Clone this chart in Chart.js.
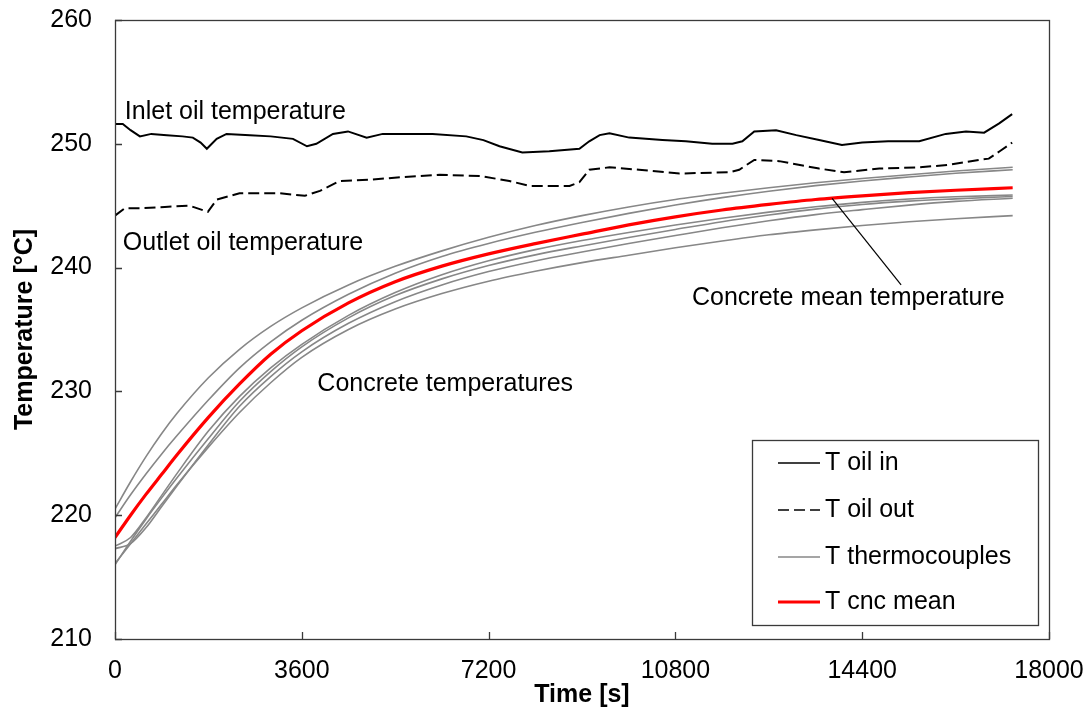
<!DOCTYPE html>
<html><head><meta charset="utf-8">
<script src="https://cdn.jsdelivr.net/npm/chart.js@4.4.1/dist/chart.umd.min.js"></script>
<style>html,body{margin:0;padding:0;background:#fff}canvas{display:block}</style>
</head><body>
<canvas id="c" width="1088" height="711"></canvas>
<script>
// ---------- data ----------
const xTicks = [0, 3600, 7200, 10800, 14400, 18000];
const yTicks = [210, 220, 230, 240, 250, 260];

const oilInTime = [0,150,300,480,700,1000,1300,1500,1650,1770,1960,2150,2600,3000,3430,3700,3880,4200,4490,4850,5160,5600,6120,6770,7100,7410,7850,8370,8950,9140,9340,9530,9910,10550,11000,11510,11900,12090,12320,12740,13130,13570,14010,14400,14900,15500,16010,16400,16750,17040,17290];
const oilIn = [251.6,251.6,251.1,250.6,250.8,250.7,250.6,250.5,250.1,249.6,250.4,250.8,250.7,250.6,250.4,249.8,250.0,250.8,251.0,250.5,250.8,250.8,250.8,250.6,250.3,249.8,249.3,249.4,249.6,250.2,250.7,250.85,250.5,250.3,250.2,250.0,250.0,250.2,251.0,251.1,250.7,250.3,249.9,250.1,250.2,250.2,250.8,251.0,250.9,251.65,252.4];

const oilOutTime = [0,190,480,960,1440,1790,1960,2400,3180,3660,3950,4330,4910,5490,6260,7030,7600,7990,8760,8950,9140,9530,10100,10880,11840,12030,12320,12800,13570,14050,14730,15500,16070,16650,16840,17050,17290];
const oilOut = [244.2,244.8,244.8,244.9,245.0,244.5,245.5,246.0,246.0,245.8,246.2,247.0,247.1,247.3,247.5,247.4,247.0,246.6,246.6,246.9,247.9,248.1,247.9,247.6,247.7,247.9,248.7,248.6,248.0,247.7,248.0,248.1,248.3,248.7,248.8,249.4,250.1];

const cncTime = [0,300,600,900,1200,1800,2400,3000,3600,4500,5400,6300,7200,8100,9000,9900,10800,11700,12600,13500,14400,15300,16200,17300];
const tc1 = [220.5,222.7,224.75,226.6,228.25,231.1,233.4,235.25,236.75,238.6,240.1,241.35,242.45,243.4,244.2,244.9,245.5,246.0,246.45,246.85,247.2,247.5,247.8,248.1];
const tc2 = [219.8,221.65,223.35,224.95,226.45,229.3,231.9,234.0,235.75,237.85,239.55,240.9,241.95,242.85,243.65,244.38,245.05,245.65,246.17,246.62,247.0,247.32,247.62,247.9];
const tc3 = [217.5,218.2,219.8,221.6,223.4,226.8,229.6,231.9,233.8,236.14,237.98,239.42,240.55,241.45,242.19,242.84,243.44,243.98,244.48,244.91,245.27,245.54,245.72,245.86];
const tc4 = [216.0,217.9,219.7,221.4,223.05,226.2,229.2,231.6,233.6,235.94,237.74,239.09,240.17,241.03,241.75,242.43,243.08,243.71,244.25,244.72,245.1,245.37,245.55,245.74];
const tc5 = [217.3,217.7,219.0,220.7,222.4,225.7,228.8,231.2,233.2,235.5,237.25,238.6,239.68,240.54,241.26,241.94,242.59,243.22,243.78,244.28,244.68,245.05,245.35,245.6];
const tc6 = [216.1,217.7,219.3,220.9,222.5,225.5,228.3,230.7,232.75,235.0,236.65,237.9,238.9,239.7,240.4,241.0,241.6,242.15,242.65,243.05,243.4,243.7,243.95,244.2];
const cncMean = [218.2,220.0,221.7,223.3,224.9,227.9,230.6,233.0,234.9,237.15,238.86,240.12,241.11,241.94,242.7,243.45,244.1,244.65,245.1,245.5,245.8,246.05,246.25,246.45];

const legendLabels = ['T oil in', 'T oil out', 'T thermocouples', 'T cnc mean'];

// ---------- helpers ----------
const pts = (xs, ys) => xs.map((x, i) => ({x: x, y: ys[i]}));
const FONT = "'Liberation Sans', Arial, sans-serif";
const GRAY = '#878787';

const tcSets = [tc1, tc2, tc3, tc4, tc5, tc6].map((arr, i) => ({
  label: 'tc' + (i + 1),
  data: pts(cncTime, arr),
  borderColor: GRAY, borderWidth: 1.6, pointRadius: 0,
  cubicInterpolationMode: 'monotone', fill: false
}));

const datasets = [
  ...tcSets,
  {label: legendLabels[3], data: pts(cncTime, cncMean), borderColor: '#ff0000', borderWidth: 3.2, pointRadius: 0, cubicInterpolationMode: 'monotone', fill: false},
  {label: legendLabels[1], data: pts(oilOutTime, oilOut), borderColor: '#000', borderWidth: 2, borderDash: [11, 5], pointRadius: 0, tension: 0, fill: false},
  {label: legendLabels[0], data: pts(oilInTime, oilIn), borderColor: '#000', borderWidth: 2, pointRadius: 0, tension: 0, fill: false}
];

const legendStyles = [
  {color: '#000', width: 1.6, dash: []},
  {color: '#000', width: 1.6, dash: [11, 5]},
  {color: GRAY, width: 1.6, dash: []},
  {color: '#ff0000', width: 3, dash: []}
];

// frame, inner tick marks, annotations and legend
const decor = {
  id: 'decor',
  afterDraw(chart) {
    const {ctx, chartArea: a, scales: {x, y}} = chart;
    ctx.save();
    ctx.strokeStyle = '#3a3a3a'; ctx.lineWidth = 1.3; ctx.setLineDash([]);
    ctx.strokeRect(a.left + 0.5, a.top + 0.5, a.right - a.left, a.bottom - a.top);
    ctx.beginPath();
    xTicks.forEach(v => { const px = Math.round(x.getPixelForValue(v)) + 0.5; ctx.moveTo(px, a.bottom); ctx.lineTo(px, a.bottom - 7); });
    yTicks.forEach(v => { const py = Math.round(y.getPixelForValue(v)) + 0.5; ctx.moveTo(a.left, py); ctx.lineTo(a.left + 7, py); });
    ctx.stroke();
    // annotations
    ctx.fillStyle = '#000'; ctx.font = '25px ' + FONT; ctx.textBaseline = 'middle'; ctx.textAlign = 'left';
    const note = (t, tv, vv) => ctx.fillText(t, x.getPixelForValue(tv), y.getPixelForValue(vv));
    note('Inlet oil temperature', 190, 252.6);
    note('Outlet oil temperature', 150, 242.0);
    note('Concrete temperatures', 3900, 230.6);
    note('Concrete mean temperature', 11120, 237.5);
    ctx.beginPath(); ctx.lineWidth = 1.2; ctx.strokeStyle = '#000';
    ctx.moveTo(x.getPixelForValue(13820), y.getPixelForValue(245.6));
    ctx.lineTo(x.getPixelForValue(15150), y.getPixelForValue(238.6));
    ctx.stroke();
    // legend
    const L = {l: 752, t: 440, w: 286, h: 185};
    ctx.fillStyle = '#fff'; ctx.fillRect(L.l, L.t, L.w, L.h);
    ctx.strokeStyle = '#3a3a3a'; ctx.lineWidth = 1.3;
    ctx.strokeRect(L.l + 0.5, L.t + 0.5, L.w, L.h);
    const rows = [463, 510, 557, 602];
    legendLabels.forEach((lab, i) => {
      const s = legendStyles[i];
      ctx.beginPath(); ctx.strokeStyle = s.color; ctx.lineWidth = s.width; ctx.setLineDash(s.dash);
      ctx.moveTo(778, rows[i]); ctx.lineTo(820, rows[i]); ctx.stroke();
      ctx.setLineDash([]);
      ctx.fillStyle = '#000'; ctx.fillText(lab, 825, rows[i]);
    });
    ctx.restore();
  }
};

new Chart(document.getElementById('c'), {
  type: 'line',
  data: {datasets},
  options: {
    responsive: false, animation: false, devicePixelRatio: 1,
    layout: {padding: {left: 0, right: 39, top: 20, bottom: 0}},
    plugins: {legend: {display: false}, tooltip: {enabled: false}},
    scales: {
      x: {
        type: 'linear', min: 0, max: 18000,
        afterBuildTicks: s => { s.ticks = xTicks.map(v => ({value: v})); },
        afterFit: s => { s.height = 72; s.paddingLeft = 0; s.paddingRight = 0; },
        grid: {display: false}, border: {display: false},
        ticks: {color: '#000', font: {family: FONT, size: 25}, padding: 9, maxRotation: 0, autoSkip: false, callback: v => String(v)},
        title: {display: true, text: 'Time [s]', color: '#000', font: {family: FONT, size: 25, weight: 'bold'}, padding: {top: 0, bottom: 1}}
      },
      y: {
        min: 210, max: 260,
        afterBuildTicks: s => { s.ticks = yTicks.map(v => ({value: v})); },
        afterFit: s => { s.width = 115; s.paddingTop = 0; s.paddingBottom = 0; },
        grid: {display: false}, border: {display: false},
        ticks: {color: '#000', font: {family: FONT, size: 25}, padding: 15, autoSkip: false, callback: v => String(v)},
        title: {display: true, text: 'Temperature [°C]', color: '#000', font: {family: FONT, size: 25, weight: 'bold'}, padding: {top: 10, bottom: 0}}
      }
    }
  },
  plugins: [decor]
});
</script>
</body></html>
